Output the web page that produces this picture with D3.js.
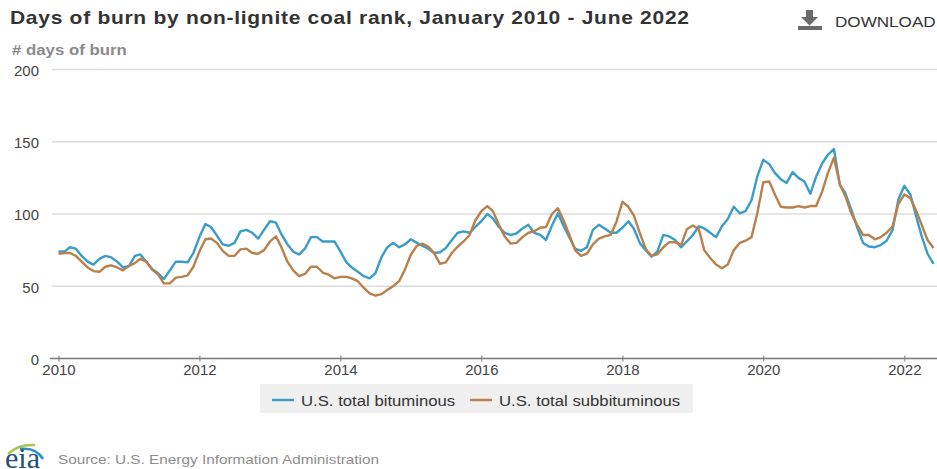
<!DOCTYPE html>
<html lang="en">
<head>
  <meta charset="UTF-8" />
  <title>Days of burn by non-lignite coal rank</title>
  <script src="https://cdnjs.cloudflare.com/ajax/libs/d3/7.8.5/d3.min.js"></script>
  <style>
    html, body { margin: 0; padding: 0; background: #fff; overflow: hidden; }
    text { font-family: "Liberation Sans", Arial, sans-serif; }
  </style>
</head>
<body>
  <svg id="chart" width="937" height="469"></svg>
  <script>
    // Monthly values, January 2010 - June 2022
    var bituminous = [
      74, 74, 77, 76, 71, 67, 65, 69, 71, 70, 67, 63,
      64, 71, 72, 67, 62, 59, 55, 61, 67, 67, 66.5, 73,
      84, 93, 91, 85, 79, 78, 80, 88, 89, 87, 83, 89,
      95, 94, 86, 79, 74, 72, 76, 84, 84, 81, 81, 81,
      74, 66.5, 63, 60, 57, 55.5, 59, 70, 77, 80, 77, 79,
      82.5, 80, 78, 76, 73, 73.5, 76.5, 82, 87, 88, 87, 91,
      95, 100, 97, 91, 87, 85.5, 86.5, 90, 92.5, 87, 85.5, 82,
      92, 100.5, 92, 84, 76, 74.5, 77, 89, 92.5, 90, 87, 87,
      90.5, 95, 90, 80, 75, 70.5, 74, 85.5, 84.5, 82, 77, 81,
      85.5, 91.5, 90, 87, 84, 91.5, 96.5, 105, 100.5, 102, 109.5, 126,
      137.5, 134.5, 128.5, 124, 121.5, 129, 125, 122.5, 114, 126, 135, 141,
      145, 120, 114.5, 103, 91, 80, 77.5, 77, 78.5, 81.5, 89, 110,
      119.5, 113.5, 99.5, 84.5, 72.5, 65.5
    ];
    var subbituminous = [
      72.5, 73, 73, 71, 67, 63, 60.5, 60, 63.5, 64.5, 63, 61,
      64, 66, 69, 67, 61.5, 58, 52, 52, 56, 56.5, 57.5, 63.5,
      74, 82.5, 83, 80, 74.5, 71, 71, 75.5, 76, 73, 72.5, 75,
      81, 84.5, 77, 67, 61, 57, 58.5, 63.5, 63.5, 59.5, 58, 55.5,
      56.5, 56.5, 55.5, 53.5, 49, 45, 43.5, 44.5, 47.5, 50, 53.5, 61.5,
      72, 78, 79.5, 77.5, 73, 65.5, 66.5, 73, 77.5, 81, 85.5, 95.5,
      102, 105.5, 102, 92.5, 84.5, 79.5, 80, 84, 87, 88, 90.5, 91,
      100, 104, 96, 85.5, 75, 71, 72.5, 79, 83, 84.5, 85.5, 94.5,
      108.5, 105, 99, 87, 76, 71, 72, 77, 80.5, 80.5, 78.5, 89.5,
      92, 89.5, 75, 69.5, 65, 62.5, 65, 75, 80, 81.5, 84, 100.5,
      122, 122.5, 113.5, 105, 104.5, 104.5, 105.5, 104.5, 105.5, 105.5, 115.5, 128.5,
      139, 120.5, 112.5, 100.5, 92.5, 85.5, 85.5, 82.5, 84, 87, 91.5, 107,
      113.5, 111, 103, 92.5, 82, 76.5
    ];
    var seriesNames = ["U.S. total bituminous", "U.S. total subbituminous"];
    var seriesColors = ["#3a9cc8", "#b9804b"];
    var yTicks = [0, 50, 100, 150, 200];
    var xTickYears = [2010, 2012, 2014, 2016, 2018, 2020, 2022];

    var svg = d3.select("#chart");
    var months = d3.utcMonth.range(new Date(Date.UTC(2010, 0, 1)), new Date(Date.UTC(2022, 6, 1)));

    var x = d3.scaleUtc()
      .domain([new Date(Date.UTC(2010, 0, 1)), new Date(Date.UTC(2022, 5, 1))])
      .range([58.5, 933.5]);
    var y = d3.scaleLinear().domain([0, 200]).range([358.5, 69.5]);

    // The reference is a horizontally stretched screenshot, so its text is wider than normal
    function wideText(px, py, sx, size, fill, str) {
      return svg.append("text")
        .attr("transform", "translate(" + px + "," + py + ") scale(" + sx + ",1)")
        .attr("font-size", size).attr("fill", fill).text(str);
    }

    // Title and header
    wideText(10, 24, 1.2, 17.5, "#333", "Days of burn by non-lignite coal rank, January 2010 - June 2022")
      .attr("font-weight", "bold").attr("letter-spacing", 0.6);
    wideText(12, 55, 1.2, 14, "#8a8a8a", "# days of burn")
      .attr("font-weight", "bold");

    // Download button
    var dl = svg.append("g").attr("fill", "#6b6b6b");
    dl.append("path").attr("d", "M806 10h7v7h5l-8.5 8.5l-8.5 -8.5h5z");
    dl.append("rect").attr("x", 798).attr("y", 26).attr("width", 24).attr("height", 4);
    wideText(835, 26.5, 1.14, 15, "#333", "DOWNLOAD");

    // Gridlines and y axis
    var yAxis = d3.axisLeft(y).tickValues(yTicks).tickSize(0).tickPadding(13);
    var gy = svg.append("g").attr("transform", "translate(52,0)").call(yAxis);
    gy.select(".domain").remove();
    gy.selectAll("text").attr("font-size", 14).attr("fill", "#444")
      .style("font-family", '"Liberation Sans", Arial, sans-serif')
      .attr("dy", "0.42em")
      .attr("x", -13 / 1.07)
      .attr("transform", "scale(1.07,1)");

    svg.append("g").selectAll("line").data(yTicks.filter(function(d) { return d > 0; })).enter()
      .append("line")
      .attr("x1", 52).attr("x2", 937)
      .attr("y1", function(d) { return y(d); })
      .attr("y2", function(d) { return y(d); })
      .attr("stroke", "#dcdcdc").attr("stroke-width", 1.5);

    // X axis
    var xAxis = d3.axisBottom(x)
      .tickValues(xTickYears.map(function(d) { return new Date(Date.UTC(d, 0, 1)); }))
      .tickFormat(d3.utcFormat("%Y"))
      .tickSize(5).tickPadding(2);
    var gx = svg.append("g").attr("transform", "translate(0,358.5)").call(xAxis);
    gx.select(".domain").attr("d", "M50,0H937").attr("stroke", "#777").attr("stroke-width", 1.5);
    gx.selectAll("line").attr("y1", -3).attr("y2", 3).attr("stroke", "#777");
    gx.selectAll("text").attr("font-size", 14).attr("fill", "#444")
      .style("font-family", '"Liberation Sans", Arial, sans-serif')
      .attr("transform", "scale(1.07,1)");

    // Lines, subbituminous goes on top
    var line = d3.line()
      .x(function(d, i) { return x(months[i]); })
      .y(function(d) { return y(d); });
    [bituminous, subbituminous].forEach(function(values, i) {
      svg.append("path").datum(values)
        .attr("d", line)
        .attr("fill", "none")
        .attr("stroke", seriesColors[i])
        .attr("stroke-width", 2.4)
        .attr("stroke-linejoin", "round");
    });

    // Legend
    svg.append("rect").attr("x", 260).attr("y", 384).attr("width", 433).attr("height", 29).attr("fill", "#efefef");
    var legendX = [272, 470];
    seriesNames.forEach(function(name, i) {
      svg.append("line")
        .attr("x1", legendX[i]).attr("x2", legendX[i] + 22)
        .attr("y1", 400).attr("y2", 400)
        .attr("stroke", seriesColors[i]).attr("stroke-width", 2.4);
      wideText(legendX[i] + 29, 406, 1.115, 15, "#333", name);
    });

    // Source and logo
    wideText(58, 464, 1.135, 13.5, "#8c8c8c", "Source: U.S. Energy Information Administration");
    var logo = svg.append("g");
    logo.append("path").attr("d", "M8 454 Q18 444 35 445").attr("fill", "none").attr("stroke", "#a8c64e").attr("stroke-width", 2.5);
    logo.append("path").attr("d", "M20 449 Q36 447 43 459").attr("fill", "none").attr("stroke", "#2f8fc4").attr("stroke-width", 2.5);
    logo.append("text").attr("x", 5).attr("y", 468)
      .attr("font-size", 30).attr("fill", "#1f4f7a")
      .style("font-family", '"Liberation Serif", serif').text("eia");
  </script>
</body>
</html>
